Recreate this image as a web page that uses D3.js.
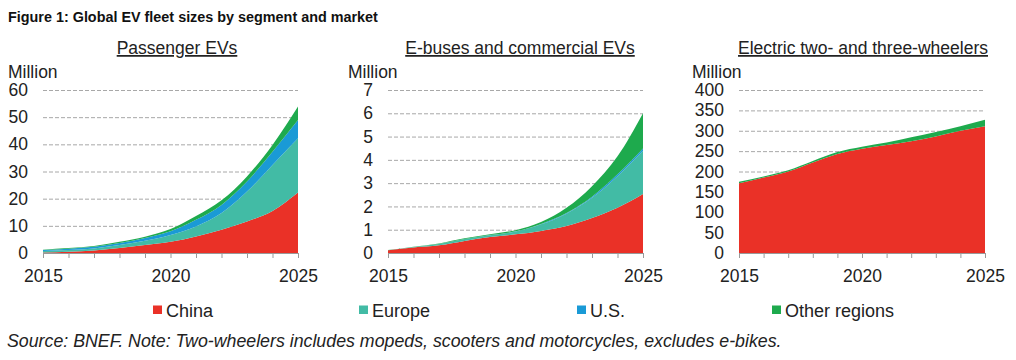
<!DOCTYPE html>
<html>
<head>
<meta charset="utf-8">
<script src="https://cdn.jsdelivr.net/npm/d3@7"></script>
<style>
  html, body { margin: 0; padding: 0; background: #fff; }
  svg { display: block; font-family: "Liberation Sans", Arial, sans-serif; }
</style>
</head>
<body>
<svg id="chart" width="1016" height="360"></svg>
<script>
// ---------- DATA ----------
const years = [2015, 2016, 2017, 2018, 2019, 2020, 2021, 2022, 2023, 2024, 2025];
const regions = ["China", "Europe", "U.S.", "Other regions"];
const regionColors = ["#ea3127", "#42bba5", "#1a9ad6", "#1eaa4d"];

// Passenger EVs (million)
const passengerChina  = [0.2, 0.5, 0.9, 1.8, 2.9, 4.1, 6.1, 8.6, 11.6, 15.5, 22.3];
const passengerEurope = [0.5, 0.6, 0.8, 1.1, 1.6, 2.5, 3.7, 6.1, 11.0, 16.9, 19.9];
const passengerUS     = [0.4, 0.5, 0.6, 0.8, 1.0, 1.4, 2.4, 3.0, 3.7, 4.9, 6.8];
const passengerOther  = [0.1, 0.2, 0.3, 0.4, 0.5, 0.8, 1.4, 1.7, 1.9, 2.5, 4.9];

// E-buses and commercial EVs (million)
const busChina  = [0.12, 0.24, 0.33, 0.52, 0.69, 0.80, 0.95, 1.16, 1.50, 1.94, 2.53];
const busEurope = [0.00, 0.02, 0.06, 0.08, 0.07, 0.12, 0.28, 0.53, 0.87, 1.36, 1.86];
const busUS     = [0.00, 0.00, 0.00, 0.00, 0.01, 0.01, 0.02, 0.03, 0.05, 0.08, 0.10];
const busOther  = [0.01, 0.01, 0.02, 0.03, 0.03, 0.05, 0.08, 0.22, 0.45, 0.77, 1.51];

// Electric two- and three-wheelers (million)
const twoChina  = [171, 185, 200, 222, 243, 256, 265, 274, 286, 300, 311];
const twoEurope = [0, 0, 0, 0, 0, 0, 0, 0, 0, 0, 0];
const twoUS     = [0, 0, 0, 0, 0, 0, 0, 0, 0, 0, 0];
const twoOther  = [4, 3, 3, 4, 5, 5, 6, 10, 11, 11, 16];

const passengerTicks = [0, 10, 20, 30, 40, 50, 60];
const busTicks = [0, 1, 2, 3, 4, 5, 6, 7];
const twoTicks = [0, 50, 100, 150, 200, 250, 300, 350, 400];
const yearLabels = [2015, 2020, 2025];

const titleText = "Figure 1: Global EV fleet sizes by segment and market";
const sourceText = "Source: BNEF. Note: Two-wheelers includes mopeds, scooters and motorcycles, excludes e-bikes.";

// ---------- LAYOUT ----------
const panels = [
  { title: "Passenger EVs", series: [passengerChina, passengerEurope, passengerUS, passengerOther],
    ticks: passengerTicks, x0: 43, x1: 298, titleX: 177, unitX: 8 },
  { title: "E-buses and commercial EVs", series: [busChina, busEurope, busUS, busOther],
    ticks: busTicks, x0: 388, x1: 643, titleX: 520, unitX: 348 },
  { title: "Electric two- and three-wheelers", series: [twoChina, twoEurope, twoUS, twoOther],
    ticks: twoTicks, x0: 739, x1: 985, titleX: 863, unitX: 692 }
];
const yTop = 90, yBottom = 253;

const svg = d3.select("#chart");

function fitWidth(sel, target) {
  const w = sel.node().getComputedTextLength();
  const fs = parseFloat(sel.attr("font-size"));
  sel.attr("font-size", (fs * target / w).toFixed(2));
}

// Title
svg.append("text").attr("x", 8).attr("y", 22)
  .attr("font-size", 14).attr("font-weight", "bold").attr("fill", "#111")
  .text(titleText).call(fitWidth, 370);

panels.forEach(p => {
  const g = svg.append("g");
  const x = d3.scaleLinear().domain([years[0], years[years.length - 1]]).range([p.x0, p.x1]);
  const y = d3.scaleLinear().domain([0, d3.max(p.ticks)]).range([yBottom, yTop]);

  // subtitle (underlined)
  g.append("text").attr("x", p.titleX).attr("y", 54).attr("text-anchor", "middle")
    .attr("font-size", 17.5).attr("fill", "#222").attr("text-decoration", "underline")
    .text(p.title);

  // unit
  g.append("text").attr("x", p.unitX).attr("y", 78)
    .attr("font-size", 17.5).attr("fill", "#222").text("Million");

  // gridlines
  g.append("g").attr("transform", `translate(${p.x0},0)`)
    .call(d3.axisLeft(y).tickValues(p.ticks.filter(t => t > 0)).tickSize(-(p.x1 - p.x0)).tickFormat(""))
    .call(s => s.select(".domain").remove())
    .call(s => s.selectAll(".tick line").attr("stroke", "#a8a8a8").attr("stroke-width", 1)
      .attr("stroke-dasharray", "4,2"));

  // stacked areas
  const rows = years.map((yr, i) => {
    const r = { year: yr };
    regions.forEach((k, j) => { r[k] = p.series[j][i]; });
    return r;
  });
  const stacked = d3.stack().keys(regions)(rows);
  const area = d3.area()
    .x(d => x(d.data.year))
    .y0(d => y(d[0]))
    .y1(d => y(d[1]))
    .curve(d3.curveMonotoneX);
  g.append("g").selectAll("path").data(stacked).join("path")
    .attr("d", area)
    .attr("fill", (d, i) => regionColors[i]);

  // y labels
  g.append("g").attr("transform", `translate(${p.x0 - 15},0)`)
    .call(d3.axisLeft(y).tickValues(p.ticks).tickSize(0).tickPadding(0).tickFormat(d3.format("d")))
    .call(s => s.select(".domain").remove())
    .call(s => s.selectAll("text").attr("font-size", 17.5).attr("fill", "#222")
      .attr("font-family", "Liberation Sans, Arial, sans-serif"));

  // x axis
  g.append("g").attr("transform", `translate(0,${yBottom})`)
    .call(d3.axisBottom(x).tickValues(years).tickSize(5).tickPadding(12)
      .tickFormat(d => yearLabels.includes(d) ? String(d) : ""))
    .call(s => s.select(".domain").attr("stroke", "#999").attr("d", `M${p.x0},0.5H${p.x1}`))
    .call(s => s.selectAll(".tick line").attr("stroke", "#999"))
    .call(s => s.selectAll("text").attr("font-size", 17.5).attr("fill", "#222")
      .attr("font-family", "Liberation Sans, Arial, sans-serif"));
});

// Legend
const legendX = [153, 359, 577, 772];
const legend = svg.append("g");
regions.forEach((r, i) => {
  legend.append("rect").attr("x", legendX[i]).attr("y", 305.5).attr("width", 9).attr("height", 8.5)
    .attr("fill", regionColors[i]);
  legend.append("text").attr("x", legendX[i] + 13).attr("y", 317)
    .attr("font-size", 18).attr("fill", "#222").text(r);
});

// Source
svg.append("text").attr("x", 7).attr("y", 347)
  .attr("font-size", 16).attr("font-style", "italic").attr("fill", "#222")
  .text(sourceText).call(fitWidth, 775);
</script>
</body>
</html>
